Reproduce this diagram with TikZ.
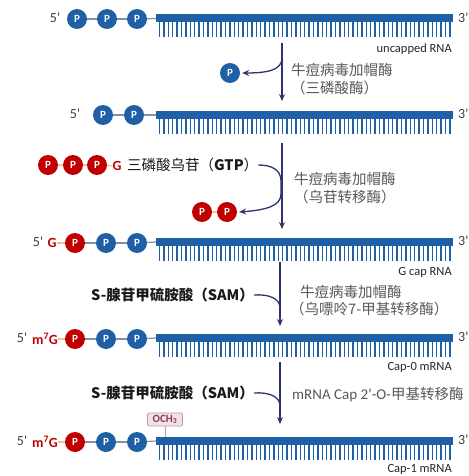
\documentclass[tikz,border=0pt]{standalone}
\usepackage{fontspec}
\setmainfont{Noto Sans CJK SC}
\newfontfamily\latinf{Carlito}
\usetikzlibrary{arrows.meta}
\definecolor{rnablue}{HTML}{1F5FA5}
\definecolor{capred}{HTML}{C00000}
\definecolor{navy}{HTML}{2E3370}
\definecolor{enzgray}{HTML}{595959}
\definecolor{linkblue}{HTML}{7F93AE}
\definecolor{linktan}{HTML}{EBC596}
\definecolor{ochfill}{HTML}{F3E1E8}
\definecolor{ochline}{HTML}{C994AC}
\definecolor{ochtext}{HTML}{8E3B5E}
\newcommand{\rnateeth}[1]{%
  \foreach \tx in {159.5,163.9,...,452}{\draw[tooth] (\tx,#1+3) -- (\tx,#1+19);}}
\begin{document}
\begin{tikzpicture}[x=1pt,y=-1pt,
  pblue/.style={circle,fill=rnablue,minimum size=20pt,inner sep=0pt,text=white,font=\latinf\bfseries\fontsize{11}{11}\selectfont},
  pred/.style={pblue,fill=capred},
  rnabar/.style={rectangle,fill=rnablue,minimum width=297pt,minimum height=8pt,inner sep=0pt},
  tooth/.style={rnablue,line width=1.5pt},
  linkB/.style={linkblue,line width=1.2pt},
  linkT/.style={linktan,line width=1.2pt},
  five/.style={text=black!75,font=\latinf\fontsize{14}{14}\selectfont,inner sep=0pt},
  capg/.style={text=capred,font=\latinf\bfseries\fontsize{14}{14}\selectfont,inner sep=0pt},
  rnalbl/.style={anchor=east,text=black!85,font=\latinf\fontsize{12.5}{12.5}\selectfont,inner sep=0pt},
  enz/.style={anchor=west,text=enzgray,font=\fontsize{14.5}{14.5}\selectfont,inner sep=0pt},
  subst/.style={anchor=west,text=black!90,font=\fontsize{14.5}{14.5}\selectfont,inner sep=0pt},
  varr/.style={navy,line width=1.3pt,-{Stealth[length=7pt,width=6pt,inset=2.5pt]}},
  carr/.style={navy,line width=1.3pt,-{Stealth[length=7pt,width=6pt,inset=2.5pt]}},
  cline/.style={navy,line width=1.3pt}]
\useasboundingbox (0,0) rectangle (468,476);
\fill[white] (0,0) rectangle (468,476);

% ---------- Row 1: uncapped RNA ----------
\node[rnabar] (bar1) at (304.5,18.5) {};
\rnateeth{18.5}
\node[pblue] (r1p1) at (77,19) {P};
\node[pblue] (r1p2) at (107,19) {P};
\node[pblue] (r1p3) at (137,19) {P};
\draw[linkB] (r1p1) -- (r1p2);
\draw[linkB] (r1p2) -- (r1p3);
\draw[linkB] (r1p3) -- (bar1.west);
\node[five] (r1five) at (55,18) {5'};
\node[five,anchor=west] (r1three) at (458,18) {3'};
\node[rnalbl] (lbl1) at (452,49) {uncapped RNA};

% arrow 1
\coordinate (a1s) at (282,43);
\coordinate (a1e) at (282,101);
\draw[varr] (a1s) -- (a1e);
\node[pblue] (freep) at (230,73) {P};
\coordinate (c1) at (282,59);
\draw[carr] (c1) .. controls (281,70) and (268,73) .. ([xshift=2pt]freep.east);
\node[enz] (enz1a) at (291,70) {牛痘病毒加帽酶};
\node[enz] (enz1b) at (291,88) {（三磷酸酶）};

% ---------- Row 2 ----------
\node[rnabar] (bar2) at (304.5,115) {};
\rnateeth{115}
\node[pblue] (r2p2) at (103,115) {P};
\node[pblue] (r2p3) at (134,115) {P};
\draw[linkB] (r2p2) -- (r2p3);
\draw[linkB] (r2p3) -- (bar2.west);
\node[five] (r2five) at (75,114) {5'};
\node[five,anchor=west] (r2three) at (458,114) {3'};

% GTP
\node[pred] (g1) at (48,165) {P};
\node[pred] (g2) at (73,165) {P};
\node[pred] (g3) at (97,165) {P};
\node[capg] (gG) at (117,166) {G};
\draw[linkT] (g1) -- (g2);
\draw[linkT] (g2) -- (g3);
\draw[linkT] (g3) -- (gG);
\node[subst] (gtp) at (127,165) {三磷酸乌苷（\textbf{GTP}）};

% arrow 2
\coordinate (a2s) at (282,143);
\coordinate (a2e) at (282,229);
\draw[varr] (a2s) -- (a2e);
\node[pred] (pp1) at (202,212) {P};
\node[pred] (pp2) at (227,212) {P};
\draw[linkT] (pp1) -- (pp2);
\draw[carr] (gtp.east) .. controls (272,165) and (281,170) .. (281,181) -- (281,194) .. controls (281,206) and (266,210) .. ([xshift=2pt]pp2.east);
\node[enz] (enz2a) at (294,179) {牛痘病毒加帽酶};
\node[enz] (enz2b) at (294,197) {（乌苷转移酶）};

% ---------- Row 3: G cap RNA ----------
\node[rnabar] (bar3) at (304.5,242) {};
\rnateeth{242}
\node[pred] (r3p1) at (75,243) {P};
\node[pblue] (r3p2) at (106,243) {P};
\node[pblue] (r3p3) at (137,243) {P};
\node[capg] (r3G) at (52,243) {G};
\node[five] (r3five) at (38,242) {5'};
\draw[linkT] (r3G) -- (r3p1);
\draw[linkB] (r3p1) -- (r3p2);
\draw[linkB] (r3p2) -- (r3p3);
\draw[linkB] (r3p3) -- (bar3.west);
\node[five,anchor=west] (r3three) at (458,241) {3'};
\node[rnalbl] (lbl3) at (452,272) {G cap RNA};

% SAM 1
\node[subst] (sam1) at (91,295) {\textbf{S-腺苷甲硫胺酸（SAM）}};
\coordinate (a3s) at (280,262);
\coordinate (a3e) at (280,326);
\draw[varr] (a3s) -- (a3e);
\coordinate (c3) at (280,308);
\draw[cline] (sam1.east) .. controls (268,294) and (280,298) .. (c3);
\node[enz] (enz3a) at (300,292) {牛痘病毒加帽酶};
\node[enz] (enz3b) at (290,309) {（乌嘌呤7-甲基转移酶）};

% ---------- Row 4: Cap-0 ----------
\node[rnabar] (bar4) at (304.5,338) {};
\rnateeth{338}
\node[pred] (r4p1) at (75,339) {P};
\node[pblue] (r4p2) at (106,339) {P};
\node[pblue] (r4p3) at (137,339) {P};
\node[capg] (r4G) at (45,339) {m\textsuperscript{7}G};
\node[five] (r4five) at (22,338) {5'};
\draw[linkT] (r4G) -- (r4p1);
\draw[linkB] (r4p1) -- (r4p2);
\draw[linkB] (r4p2) -- (r4p3);
\draw[linkB] (r4p3) -- (bar4.west);
\node[five,anchor=west] (r4three) at (458,337) {3'};
\node[rnalbl] (lbl4) at (452,367) {Cap-0 mRNA};

% SAM 2
\node[subst] (sam2) at (91,393) {\textbf{S-腺苷甲硫胺酸（SAM）}};
\coordinate (a4s) at (280,362);
\coordinate (a4e) at (280,424);
\draw[varr] (a4s) -- (a4e);
\coordinate (c4) at (280,406);
\draw[cline] (sam2.east) .. controls (268,392) and (280,396) .. (c4);
\node[enz] (enz4) at (292,395) {{\latinf\fontsize{15}{15}\selectfont mRNA Cap 2’-O-}甲基转移酶};

% ---------- Row 5: Cap-1 ----------
\node[rnabar] (bar5) at (304.5,441) {};
\rnateeth{441}
\node[pred] (r5p1) at (75,442) {P};
\node[pblue] (r5p2) at (106,442) {P};
\node[pblue] (r5p3) at (137,442) {P};
\node[capg] (r5G) at (45,442) {m\textsuperscript{7}G};
\node[five] (r5five) at (22,441) {5'};
\draw[linkT] (r5G) -- (r5p1);
\draw[linkB] (r5p1) -- (r5p2);
\draw[linkB] (r5p2) -- (r5p3);
\draw[linkB] (r5p3) -- (bar5.west);
\node[five,anchor=west] (r5three) at (458,440) {3'};
\node[rnalbl] (lbl5) at (452,469) {Cap-1 mRNA};
\node[draw=ochline,fill=ochfill,rounded corners=1.5pt,line width=0.8pt,inner sep=1.5pt,minimum width=35pt,minimum height=13pt,text=ochtext,font=\latinf\bfseries\fontsize{11}{11}\selectfont] (och) at (165,419.5) {OCH\textsubscript{3}};
\draw[ochline,line width=1pt] (och.south) -- (165,437);
\end{tikzpicture}
\end{document}
